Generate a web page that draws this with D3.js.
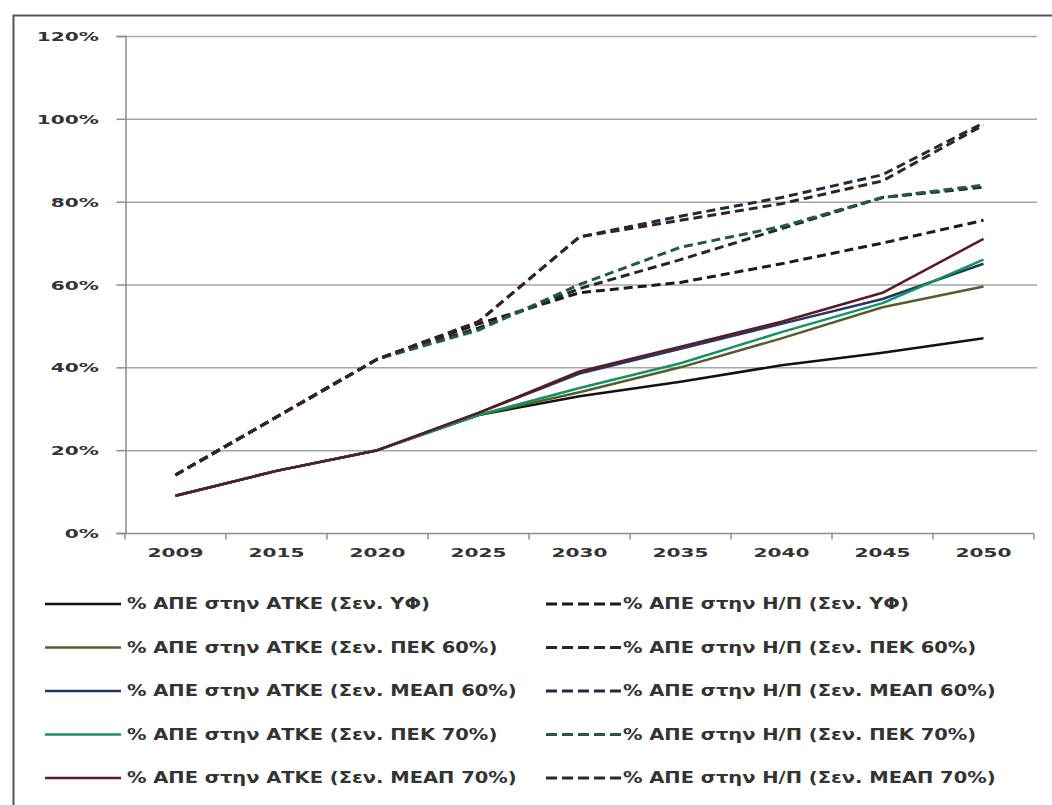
<!DOCTYPE html>
<html>
<head>
<meta charset="utf-8">
<script src="https://cdn.jsdelivr.net/npm/d3@7"></script>
<style>
  html, body { margin: 0; padding: 0; background: #fff; }
  svg { display: block; }
  text { font-family: "DejaVu Sans", Verdana, sans-serif; fill: #333; font-weight: bold; }
</style>
</head>
<body>
<svg id="chart" width="1052" height="805"></svg>
<script>
// Years on the category axis
const years = ["2009", "2015", "2020", "2025", "2030", "2035", "2040", "2045", "2050"];
const yTicks = [0, 20, 40, 60, 80, 100, 120];

// Share of renewables in gross final energy consumption (ΑΤΚΕ), %
const atkeYF     = [9, 15, 20, 28.5, 33, 36.5, 40.5, 43.5, 47];
const atkePEK60  = [9, 15, 20, 28.5, 34, 40, 47, 54.5, 59.5];
const atkeMEAP60 = [9, 15, 20, 29, 38.5, 44.5, 50.5, 56.5, 65];
const atkePEK70  = [9, 15, 20, 28.5, 35, 41, 48.5, 55.5, 66];
const atkeMEAP70 = [9, 15, 20, 29, 39, 45, 51, 58, 71];

// Share of renewables in electricity generation (Η/Π), %
const epYF     = [14, 28, 42, 50.5, 58, 60.5, 65, 70, 75.5];
const epPEK60  = [14, 28, 42, 49.5, 59, 66, 73.5, 81, 83.5];
const epMEAP60 = [14, 28, 42, 51, 71.5, 76.5, 81, 86.5, 99];
const epPEK70  = [14, 28, 42, 49, 60, 69, 74, 81, 84];
const epMEAP70 = [14, 28, 42, 51, 71.5, 75.5, 79.5, 85, 98.5];

const names = ["Σεν. ΥΦ", "Σεν. ΠΕΚ 60%", "Σεν. ΜΕΑΠ 60%", "Σεν. ΠΕΚ 70%", "Σεν. ΜΕΑΠ 70%"];
const solidColors  = ["#111111", "#5b5a2c", "#1f3864", "#13935e", "#5a1a22"];
const dashedColors = ["#1a1a1a", "#262626", "#1e2a44", "#1f5e3a", "#3a2020"];

const solidSeries  = [atkeYF, atkePEK60, atkeMEAP60, atkePEK70, atkeMEAP70];
const dashedSeries = [epYF, epPEK60, epMEAP60, epPEK70, epMEAP70];

const svg = d3.select("#chart");

// Wide-set label: text placed at (px, py) and stretched horizontally
function wideText(g, px, py, txt, anchor, size, sx) {
  return g.append("text")
    .attr("transform", `translate(${px},${py}) scale(${sx},1)`)
    .attr("text-anchor", anchor)
    .attr("font-size", size)
    .text(txt);
}

// Outer frame (top and left edges)
svg.append("path")
  .attr("d", "M13.5,805 L13.5,15.5 L1052,15.5")
  .attr("fill", "none").attr("stroke", "#555").attr("stroke-width", 2);

const plotLeft = 125, plotRight = 1034, plotTop = 36, plotBottom = 533;

const x = d3.scaleBand().domain(years).range([plotLeft, plotRight]).paddingInner(0).paddingOuter(0);
const y = d3.scaleLinear().domain([0, 120]).range([plotBottom, plotTop]);

// Horizontal gridlines
svg.append("g").selectAll("line").data(yTicks.filter(d => d > 0)).join("line")
  .attr("x1", plotLeft).attr("x2", plotRight + 3)
  .attr("y1", d => y(d) + 0.5).attr("y2", d => y(d) + 0.5)
  .attr("stroke", "#a6a6a6").attr("stroke-width", 1.5);

// Y axis: line, ticks and stretched labels
const yAxis = svg.append("g").attr("transform", `translate(${plotLeft + 0.5},0)`)
  .call(d3.axisLeft(y).tickValues(yTicks).tickFormat("").tickSize(9));
yAxis.select(".domain").attr("stroke", "#8c8c8c").attr("stroke-width", 1.5);
yAxis.selectAll(".tick line").attr("stroke", "#8c8c8c").attr("stroke-width", 1.5);
const yLab = svg.append("g");
yTicks.forEach(t => wideText(yLab, 99, y(t) + 5, t + "%", "end", 13, 1.55));

// X axis with ticks between categories
const xAxisG = svg.append("g").attr("transform", `translate(0,${plotBottom + 0.5})`);
xAxisG.append("line").attr("x1", plotLeft).attr("x2", plotRight)
  .attr("stroke", "#8c8c8c").attr("stroke-width", 1.5);
const boundaries = years.map(d => x(d)).concat([x(years[years.length - 1]) + x.bandwidth()]);
xAxisG.selectAll("line.tk").data(boundaries).join("line").attr("class", "tk")
  .attr("x1", d => d).attr("x2", d => d).attr("y1", 0).attr("y2", 6)
  .attr("stroke", "#8c8c8c").attr("stroke-width", 1.5);
years.forEach(yr => wideText(xAxisG, x(yr) + x.bandwidth() / 2, 23, yr, "middle", 13, 1.55));

const line = d3.line()
  .x((d, i) => x(years[i]) + x.bandwidth() / 2)
  .y(d => y(d));

// Electricity-generation shares (dashed)
svg.append("g").selectAll("path").data(dashedSeries).join("path")
  .attr("d", d => line(d))
  .attr("fill", "none")
  .attr("stroke", (d, i) => dashedColors[i])
  .attr("stroke-width", 3)
  .attr("stroke-dasharray", "9,5");

// Final-energy shares (solid)
svg.append("g").selectAll("path").data(solidSeries).join("path")
  .attr("d", d => line(d))
  .attr("fill", "none")
  .attr("stroke", (d, i) => solidColors[i])
  .attr("stroke-width", 2.5)
  .attr("stroke-linejoin", "round");

// Legend: two columns, five rows
const rowY = i => 604 + i * 43.5;
const legend = svg.append("g");
names.forEach((n, i) => {
  legend.append("line").attr("x1", 45).attr("x2", 121).attr("y1", rowY(i)).attr("y2", rowY(i))
    .attr("stroke", solidColors[i]).attr("stroke-width", 2.5);
  wideText(legend, 127, rowY(i) + 5, `% ΑΠΕ στην ΑΤΚΕ (${n})`, "start", 15, 1.3);
  legend.append("line").attr("x1", 546).attr("x2", 622).attr("y1", rowY(i)).attr("y2", rowY(i))
    .attr("stroke", dashedColors[i]).attr("stroke-width", 3).attr("stroke-dasharray", "11,5");
  wideText(legend, 623, rowY(i) + 5, `% ΑΠΕ στην Η/Π (${n})`, "start", 15, 1.3);
});
</script>
</body>
</html>
